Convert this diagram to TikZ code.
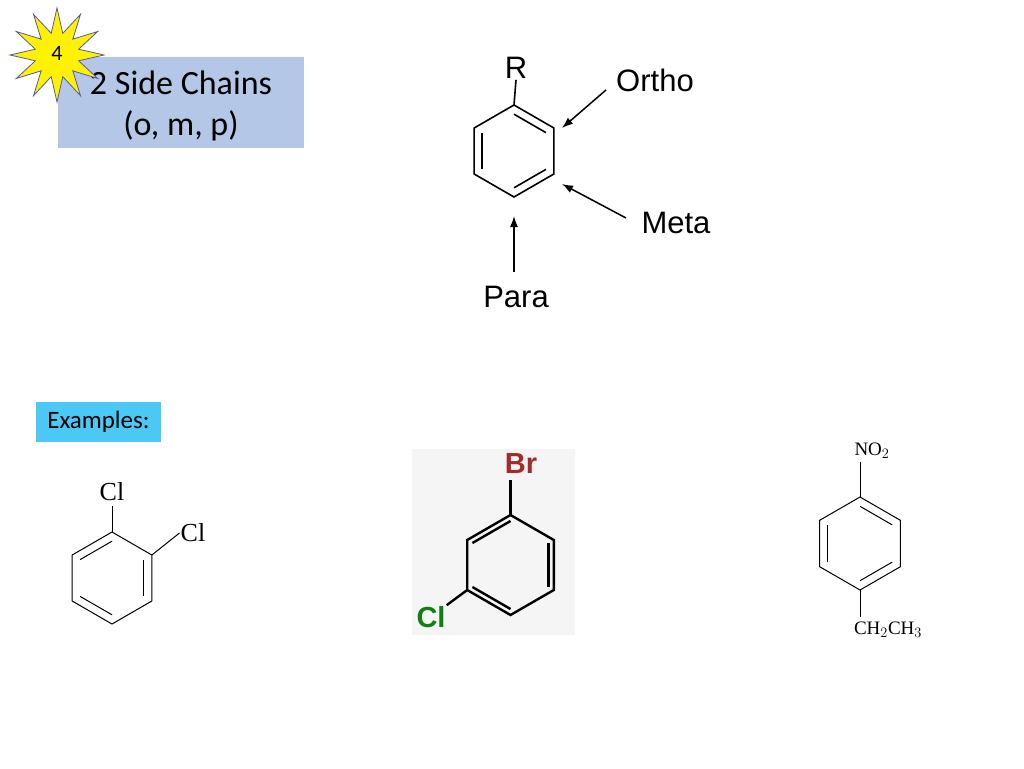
\documentclass[tikz,border=0pt]{standalone}
\usepackage{fontspec}
\setmainfont{Carlito}
\newfontfamily\arialf{Liberation Sans}
\newfontfamily\seriff{Liberation Serif}
\usetikzlibrary{shapes.geometric,calc,arrows.meta}
\definecolor{boxblue}{HTML}{B4C7E7}
\definecolor{exblue}{HTML}{00B0F0}
\definecolor{brcol}{HTML}{A52A2A}
\definecolor{clcol}{HTML}{108010}
\tikzset{bond/.style={line width=1.6pt},thick bond/.style={line width=2.4pt},
 arr/.style={line width=1.5pt,-{Latex[length=11pt,width=8pt]}}}
\newcommand{\hexa}[4]{%
 \coordinate (#1c) at (#2,#3);
 \coordinate (#1t) at (#2,#3-#4);
 \coordinate (#1ur) at (#2+0.866*#4,#3-0.5*#4);
 \coordinate (#1lr) at (#2+0.866*#4,#3+0.5*#4);
 \coordinate (#1b) at (#2,#3+#4);
 \coordinate (#1ll) at (#2-0.866*#4,#3+0.5*#4);
 \coordinate (#1ul) at (#2-0.866*#4,#3-0.5*#4);}
\newcommand{\innerbond}[4]{\draw[#4] ($#1!0.2!#3$) -- ($#2!0.2!#3$);}
\begin{document}
\begin{tikzpicture}[x=1pt,y=-1pt]
\useasboundingbox (0,0) rectangle (1024,768);
\fill[white] (0,0) rectangle (1024,768);
% title box
\node[fill=boxblue,minimum width=246,minimum height=91,inner sep=0] (box) at (181,102.5) {};
\node[font=\fontsize{34}{36}\selectfont] (t1) at (181,83) {2 Side Chains};
\node[font=\fontsize{34}{36}\selectfont] (t2) at (181,126) {(o, m, p)};
\node[star,star points=12,star point ratio=2.1,minimum size=94,fill=yellow,draw=gray!70!blue,line width=0.8pt] (star) at (57,55) {};
\node[font=\fontsize{22}{24}\selectfont] (four) at (57,53) {4};
% main benzene
\hexa{m}{514}{151}{46}
\draw[bond] (mt)--(mur)--(mlr)--(mb)--(mll)--(mul)--cycle;
\innerbond{(mt)}{(mur)}{(mc)}{bond}
\innerbond{(mlr)}{(mb)}{(mc)}{bond}
\innerbond{(mll)}{(mul)}{(mc)}{bond}
\node[font=\arialf\fontsize{31}{33}\selectfont,inner sep=1] (R) at (516,68) {R};
\draw[bond] (mt) -- (R.south);
\node[font=\arialf\fontsize{31}{33}\selectfont] (ortho) at (655,80) {Ortho};
\node[font=\arialf\fontsize{31}{33}\selectfont] (meta) at (676,223) {Meta};
\node[font=\arialf\fontsize{31}{33}\selectfont] (para) at (516,297) {Para};
\coordinate (oa) at (606,90); \coordinate (oe) at (562,128);
\coordinate (ma) at (626,218); \coordinate (me) at (562,184);
\coordinate (pa) at (514,272); \coordinate (pe) at (514,216);
\draw[arr] (oa) -- (oe);
\draw[arr] (ma) -- (me);
\draw[arr] (pa) -- (pe);
% examples
\node[fill=exblue!70,minimum width=125,minimum height=40,inner sep=0,font=\fontsize{25}{27}\selectfont] (ex) at (98.5,422) {Examples:};
% ortho-dichloro
\hexa{a}{112}{578}{46}
\draw[line width=1pt] (at)--(aur)--(alr)--(ab)--(all)--(aul)--cycle;
\innerbond{(aul)}{(at)}{(ac)}{line width=1pt}
\innerbond{(aur)}{(alr)}{(ac)}{line width=1pt}
\innerbond{(ab)}{(all)}{(ac)}{line width=1pt}
\node[font=\seriff\fontsize{26}{28}\selectfont,inner sep=1] (cl1) at (112,492) {Cl};
\node[font=\seriff\fontsize{26}{28}\selectfont,inner sep=1] (cl2) at (193,533) {Cl};
\draw[line width=1pt] (at) -- (112,506);
\draw[line width=1pt] (aur) -- (cl2.west);
% meta
\fill[gray!8] (412,449) rectangle (575,635);
\hexa{b}{510.5}{565}{50}
\draw[thick bond] (bt)--(bur)--(blr)--(bb)--(bll)--(bul)--cycle;
\draw[thick bond] ($(bt)!0.12!(bc)$) -- ($(bul)!0.12!(bc)$);
\draw[thick bond] ($(bur)!0.12!(bc)$) -- ($(blr)!0.12!(bc)$);
\draw[thick bond] ($(bll)!0.12!(bc)$) -- ($(bb)!0.12!(bc)$);
\node[font=\arialf\bfseries\fontsize{29}{31}\selectfont,text=brcol,inner sep=1] (br) at (521,464) {Br};
\node[font=\arialf\bfseries\fontsize{29}{31}\selectfont,text=clcol,inner sep=1] (cl3) at (431,617) {Cl};
\draw[thick bond] (bt) -- (510.5,480);
\draw[thick bond] (bll) -- (cl3.north east);
% para
\hexa{p}{860}{543.5}{46.5}
\draw[line width=1pt] (pt)--(pur)--(plr)--(pb)--(pll)--(pul)--cycle;
\innerbond{(pt)}{(pur)}{(pc)}{line width=1pt}
\innerbond{(plr)}{(pb)}{(pc)}{line width=1pt}
\innerbond{(pll)}{(pul)}{(pc)}{line width=1pt}
\node[font=\seriff\fontsize{19}{21}\selectfont,inner sep=1] (no2) at (872,451) {NO$_2$};
\node[font=\seriff\fontsize{19}{21}\selectfont,inner sep=1] (et) at (888,630) {CH$_2$CH$_3$};
\draw[line width=1pt] (pt) -- (860,462);
\draw[line width=1pt] (pb) -- (860,617);
\end{tikzpicture}
\end{document}
